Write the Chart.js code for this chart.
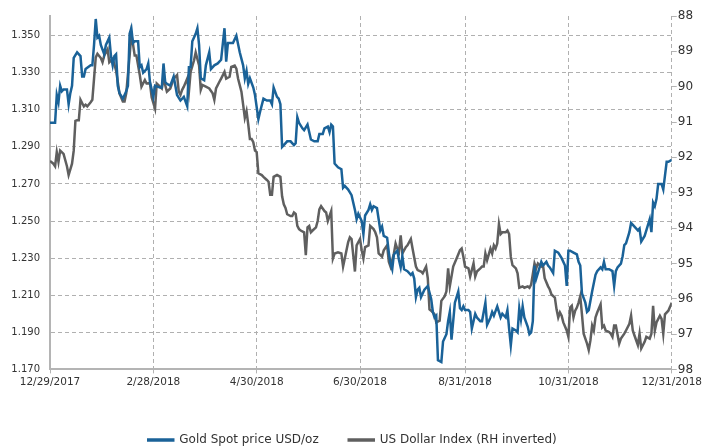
<!DOCTYPE html>
<html>
<head>
<meta charset="utf-8">
<script src="https://cdn.jsdelivr.net/npm/chart.js@4.4.1/dist/chart.umd.min.js"></script>
<style>
  html, body { margin: 0; padding: 0; background: #fff; }
  #chart { display: block; }
</style>
</head>
<body>
<canvas id="chart" width="705" height="447"></canvas>
<script>
// x values are days since 12/29/2017
const tickDays = [0, 61, 122, 183, 245, 306, 367];
const tickLabels = ['12/29/2017', '2/28/2018', '4/30/2018', '6/30/2018', '8/31/2018', '10/31/2018', '12/31/2018'];

const goldTicks = [1170, 1190, 1210, 1230, 1250, 1270, 1290, 1310, 1330, 1350];
const usdTicks = [88, 89, 90, 91, 92, 93, 94, 95, 96, 97, 98];

// Gold spot price, USD/oz
const goldDays = [
    0, 3, 4, 5, 6, 7, 8, 10, 11, 12, 13, 14, 16, 18, 19, 20, 21, 24, 25, 26,
    27, 28, 29, 30, 32, 33, 35, 36, 37, 38, 39, 40, 41, 43, 45, 46, 47, 48, 49, 50,
    52, 53, 54, 55, 57, 58, 59, 61, 62, 65, 66, 67, 68, 69, 71, 73, 75, 77, 79, 81,
    82, 83, 84, 86, 87, 88, 89, 91, 92, 94, 95, 97, 99, 101, 103, 104, 105, 108, 110, 112,
    114, 115, 116, 117, 118, 120, 121, 123, 124, 126, 128, 130, 131, 132, 134, 135, 136, 137, 138, 140,
    142, 144, 145, 146, 147, 149, 150, 152, 153, 154, 156, 158, 159, 161, 162, 164, 165, 166, 167, 168,
    170, 172, 173, 174, 176, 178, 180, 181, 182, 184, 185, 186, 188, 189, 190, 191, 193, 194, 195, 196,
    197, 199, 200, 201, 202, 203, 205, 206, 207, 208, 209, 211, 213, 214, 215, 216, 217, 218, 219, 221,
    223, 225, 226, 227, 228, 229, 231, 232, 234, 235, 236, 237, 239, 241, 242, 243, 244, 245, 247, 248,
    249, 251, 252, 254, 255, 257, 258, 260, 261, 262, 264, 266, 267, 269, 270, 271, 272, 273, 275, 276,
    277, 278, 279, 280, 282, 283, 284, 285, 286, 287, 289, 290, 291, 293, 294, 295, 297, 298, 300, 302,
    304, 305, 306, 307, 309, 311, 312, 313, 314, 316, 317, 318, 320, 322, 323, 325, 326, 327, 328, 330,
    332, 333, 334, 335, 337, 338, 339, 340, 342, 343, 345, 347, 348, 349, 351, 352, 354, 355, 356, 357,
    358, 359, 361, 362, 364, 365, 367
];
const goldPrice = [
    1303, 1303, 1318, 1314, 1323, 1320, 1321, 1321, 1313, 1319, 1323, 1338, 1341, 1339, 1328, 1328, 1332, 1334, 1334, 1345,
    1359, 1349, 1350, 1345, 1340, 1345, 1349, 1339, 1334, 1339, 1340, 1323, 1319, 1316, 1320, 1323, 1351, 1354, 1346, 1347,
    1347, 1333, 1334, 1330, 1332, 1335, 1325, 1317, 1323, 1322, 1322, 1335, 1325, 1324, 1323, 1328, 1318, 1315, 1317, 1312,
    1333, 1333, 1347, 1351, 1354, 1345, 1327, 1326, 1334, 1341, 1332, 1334, 1335, 1337, 1354, 1336, 1346, 1346, 1350, 1341,
    1334, 1327, 1331, 1324, 1327, 1322, 1318, 1305, 1309, 1316, 1315, 1315, 1313, 1322, 1317, 1316, 1313, 1290, 1291, 1293,
    1293, 1291, 1292, 1306, 1303, 1300, 1299, 1302, 1298, 1294, 1293, 1293, 1297, 1297, 1300, 1301, 1298, 1302, 1301, 1281,
    1279, 1278, 1268, 1269, 1267, 1264, 1256, 1251, 1254, 1250, 1243, 1253, 1256, 1259, 1256, 1258, 1257, 1251, 1245, 1247,
    1242, 1241, 1233, 1227, 1224, 1232, 1234, 1229, 1225, 1231, 1224, 1223, 1221, 1222, 1219, 1209, 1213, 1214, 1209, 1213,
    1215, 1208, 1201, 1198, 1199, 1175, 1174, 1185, 1189, 1196, 1201, 1186, 1206, 1212, 1203, 1202, 1204, 1202, 1202, 1201,
    1192, 1200, 1198, 1196, 1196, 1206, 1194, 1198, 1201, 1199, 1204, 1198, 1200, 1198, 1202, 1192, 1183, 1192, 1191, 1190,
    1203, 1197, 1204, 1198, 1193, 1189, 1190, 1196, 1226, 1219, 1225, 1228, 1226, 1228, 1226, 1225, 1222, 1234, 1233, 1230,
    1226, 1215, 1234, 1234, 1233, 1232, 1228, 1226, 1211, 1206, 1201, 1202, 1212, 1221, 1223, 1225, 1224, 1228, 1224, 1224,
    1223, 1215, 1223, 1225, 1227, 1231, 1237, 1238, 1244, 1249, 1247, 1245, 1246, 1239, 1242, 1245, 1251, 1244, 1260, 1258,
    1262, 1270, 1270, 1267, 1282, 1282, 1283
];

// US Dollar Index, plotted on an inverted right axis
const usdDays = [
    0, 2, 3, 4, 5, 6, 8, 10, 11, 13, 14, 15, 16, 17, 18, 20, 21, 22, 24, 25,
    26, 27, 28, 30, 31, 32, 34, 35, 37, 39, 40, 41, 43, 44, 45, 47, 48, 49, 50, 51,
    53, 54, 56, 57, 59, 60, 62, 63, 66, 67, 69, 71, 72, 73, 75, 76, 77, 78, 79, 81,
    82, 83, 85, 86, 88, 89, 90, 92, 94, 96, 97, 98, 100, 101, 103, 104, 106, 107, 109, 110,
    111, 113, 114, 115, 116, 117, 118, 119, 120, 121, 122, 123, 125, 126, 128, 129, 130, 131, 132, 134,
    136, 137, 138, 139, 140, 142, 143, 144, 145, 146, 147, 148, 150, 151, 152, 153, 154, 155, 157, 158,
    159, 160, 162, 163, 164, 166, 167, 168, 170, 172, 173, 174, 176, 177, 178, 180, 181, 183, 184, 185,
    186, 188, 189, 191, 192, 193, 194, 196, 197, 199, 200, 201, 203, 204, 205, 206, 207, 208, 210, 211,
    213, 214, 216, 217, 219, 220, 222, 223, 224, 225, 227, 228, 230, 231, 233, 234, 235, 236, 238, 240,
    242, 243, 244, 245, 247, 248, 250, 251, 252, 254, 255, 256, 257, 258, 260, 261, 262, 263, 264, 265,
    266, 267, 269, 270, 271, 272, 273, 275, 276, 277, 279, 280, 282, 283, 284, 286, 287, 288, 290, 291,
    292, 294, 295, 296, 298, 299, 300, 301, 302, 303, 305, 306, 307, 308, 309, 310, 311, 312, 313, 314,
    315, 317, 318, 319, 320, 321, 322, 323, 325, 326, 327, 328, 330, 331, 332, 333, 334, 336, 337, 339,
    340, 342, 343, 344, 345, 347, 348, 349, 351, 352, 354, 355, 356, 357, 358, 360, 361, 362, 363, 365,
    366, 367
];
const usdIndex = [
    92.10, 92.18, 92.25, 91.85, 92.13, 91.81, 91.90, 92.25, 92.50, 92.18, 91.81, 90.97, 90.95, 90.95, 90.37, 90.56, 90.51, 90.56, 90.44, 90.37,
    89.77, 89.17, 89.07, 89.19, 89.31, 89.12, 88.94, 89.31, 89.21, 89.54, 89.86, 90.19, 90.42, 90.42, 90.19, 89.12, 88.52, 88.80, 89.12, 89.12,
    89.67, 90.00, 89.81, 89.91, 89.90, 90.30, 90.62, 89.91, 90.05, 89.77, 90.14, 90.05, 89.91, 89.77, 89.67, 90.14, 90.23, 90.09, 90.00, 89.77,
    90.14, 89.58, 89.26, 89.03, 89.40, 90.09, 89.95, 90.00, 90.05, 90.19, 90.37, 90.05, 89.86, 89.77, 89.58, 89.77, 89.72, 89.44, 89.40, 89.49,
    89.77, 90.14, 90.51, 90.88, 90.69, 91.06, 91.48, 91.48, 91.57, 91.81, 91.85, 92.45, 92.50, 92.55, 92.64, 92.69, 93.06, 93.06, 92.55, 92.50,
    92.55, 93.10, 93.33, 93.43, 93.61, 93.66, 93.66, 93.56, 93.60, 93.94, 94.03, 94.07, 94.12, 94.77, 93.98, 93.94, 94.12, 94.07, 93.98, 93.80,
    93.47, 93.38, 93.52, 93.56, 93.80, 93.52, 94.86, 94.72, 94.69, 94.72, 95.09, 94.86, 94.40, 94.26, 94.31, 95.23, 94.49, 94.31, 94.63, 94.86,
    94.54, 94.49, 93.94, 94.03, 94.12, 94.26, 94.72, 94.81, 94.63, 94.49, 94.95, 95.09, 94.72, 94.44, 94.58, 94.68, 94.21, 94.72, 94.54, 94.49,
    94.31, 94.58, 95.09, 95.19, 95.23, 95.28, 95.09, 95.42, 96.30, 96.34, 96.44, 96.67, 96.62, 96.06, 95.93, 95.79, 95.14, 95.65, 95.09, 94.86,
    94.63, 94.58, 94.81, 95.09, 95.14, 95.37, 95.00, 95.37, 95.23, 95.14, 95.09, 95.09, 94.72, 94.91, 94.58, 94.72, 94.49, 94.58, 94.44, 93.89,
    94.17, 94.12, 94.12, 94.07, 94.17, 94.81, 95.05, 95.14, 95.28, 95.69, 95.65, 95.69, 95.65, 95.69, 95.60, 95.00, 95.14, 95.00, 95.09, 95.05,
    95.42, 95.65, 95.74, 95.88, 95.97, 96.30, 96.53, 96.39, 96.48, 96.67, 96.90, 97.08, 96.25, 96.20, 96.53, 96.34, 96.25, 96.11, 95.93, 96.44,
    96.99, 97.27, 97.45, 97.18, 96.76, 96.90, 96.53, 96.39, 96.16, 96.81, 96.76, 96.90, 96.94, 96.99, 97.08, 96.76, 96.76, 97.27, 97.13, 96.99,
    96.90, 96.71, 96.48, 96.90, 97.04, 97.31, 96.99, 97.41, 97.22, 97.08, 97.13, 96.99, 96.20, 96.90, 96.67, 96.48, 96.57, 96.99, 96.44, 96.34,
    96.23, 96.11
];

const GOLD_COLOR = '#1a6298';
const USD_COLOR = '#5f5f5f';
const GRID_COLOR = '#b0b0b0';
const AXIS_COLOR = '#b4b4b4';
const TEXT_COLOR = '#333333';

Chart.defaults.font.family = 'DejaVu Sans';

function toPoints(xs, ys) {
    return xs.map((x, i) => ({ x: x, y: ys[i] }));
}

const ctx = document.getElementById('chart').getContext('2d');

new Chart(ctx, {
    type: 'line',
    data: {
        datasets: [{
            label: 'Gold Spot price USD/oz',
            data: toPoints(goldDays, goldPrice),
            yAxisID: 'yGold',
            borderColor: GOLD_COLOR,
            backgroundColor: GOLD_COLOR,
            borderWidth: 2.5,
            pointRadius: 0,
            tension: 0
        }, {
            label: 'US Dollar Index (RH inverted)',
            data: toPoints(usdDays, usdIndex),
            yAxisID: 'yUsd',
            borderColor: USD_COLOR,
            backgroundColor: USD_COLOR,
            borderWidth: 2.5,
            pointRadius: 0,
            tension: 0
        }]
    },
    options: {
        responsive: false,
        animation: false,
        layout: { padding: { top: 13 } },
        plugins: {
            legend: {
                position: 'bottom',
                maxHeight: 43,
                labels: {
                    boxWidth: 25,
                    boxHeight: 1,
                    padding: 30,
                    color: TEXT_COLOR,
                    font: { size: 12 }
                }
            },
            tooltip: { enabled: false }
        },
        scales: {
            x: {
                type: 'linear',
                min: 0,
                max: 367,
                afterBuildTicks: s => { s.ticks = tickDays.map(v => ({ value: v })); },
                ticks: {
                    callback: (v, i) => tickLabels[i],
                    autoSkip: false,
                    maxRotation: 0,
                    padding: 3,
                    color: TEXT_COLOR,
                    font: { size: 10.5 }
                },
                // empty title only keeps the gap above the legend
                title: { display: true, text: '', padding: { top: 0, bottom: 0 }, font: { size: 10 } },
                grid: { color: GRID_COLOR, lineWidth: 1, tickColor: AXIS_COLOR, tickLength: 4, tickBorderDash: [] },
                border: { color: AXIS_COLOR, width: 2, dash: [4, 3] }
            },
            yGold: {
                position: 'left',
                min: 1170,
                max: 1360.6,
                afterBuildTicks: s => { s.ticks = goldTicks.map(v => ({ value: v })); },
                afterFit: s => { s.width = 50; },
                ticks: {
                    callback: v => (v / 1000).toFixed(3),
                    padding: 10,
                    color: TEXT_COLOR,
                    font: { size: 10 }
                },
                grid: { color: GRID_COLOR, lineWidth: 1, drawTicks: false },
                border: { color: AXIS_COLOR, width: 2, dash: [4, 3] }
            },
            yUsd: {
                position: 'right',
                reverse: true,
                min: 88,
                max: 98,
                afterBuildTicks: s => { s.ticks = usdTicks.map(v => ({ value: v })); },
                ticks: {
                    padding: 1,
                    color: TEXT_COLOR,
                    font: { size: 12 }
                },
                grid: { drawOnChartArea: false, tickColor: AXIS_COLOR, tickLength: 5 },
                border: { display: false }
            }
        }
    }
});
</script>
</body>
</html>
